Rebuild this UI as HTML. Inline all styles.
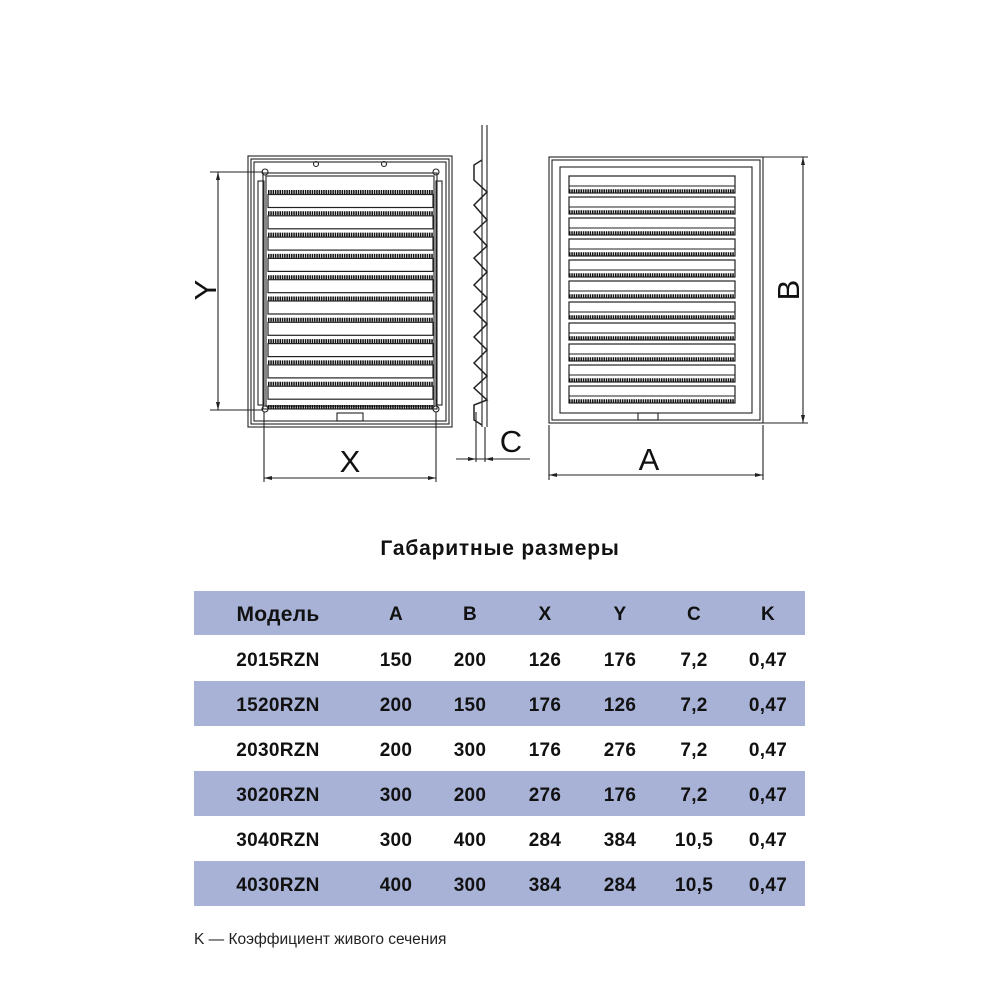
<!DOCTYPE html>
<html><head><meta charset="utf-8"><style>
body{margin:0;background:#fff;width:1000px;height:1000px;overflow:hidden}
svg{display:block}
text{font-family:"Liberation Sans",sans-serif}
.t{font-weight:bold;font-size:19px;fill:#111;text-anchor:middle;letter-spacing:0.3px}
</style></head><body>
<svg width="1000" height="1000" viewBox="0 0 1000 1000">
<defs>
<g id="ll">
<line x1="268" x2="433" y1="0" y2="0" stroke="#111" stroke-width="4" stroke-dasharray="1.5 0.8"/>
<rect x="268" y="2.5" width="165" height="13" fill="none" stroke="#222" stroke-width="1.2"/>
</g>
<g id="rl">
<rect x="569" y="0" width="166" height="17" fill="none" stroke="#222" stroke-width="1.2"/>
<line x1="569" x2="735" y1="10" y2="10" stroke="#222" stroke-width="0.9"/>
<line x1="569" x2="735" y1="15" y2="15" stroke="#111" stroke-width="3.5" stroke-dasharray="1.5 0.8"/>
</g>
</defs>
<g fill="none" stroke="#222" stroke-width="1.1">
<rect x="248" y="156" width="204" height="271"/>
<rect x="251" y="159" width="198" height="265"/>
<rect x="254" y="162" width="192" height="259"/>
<rect x="263" y="173" width="174" height="236"/>
<rect x="266" y="176" width="168" height="230"/>
<rect x="258" y="181" width="6" height="224"/>
<rect x="436" y="181" width="6" height="224"/>
<circle cx="265" cy="172" r="3"/><circle cx="436" cy="172" r="3"/>
<circle cx="265" cy="409" r="3"/><circle cx="436" cy="409" r="3"/>
<circle cx="316" cy="164" r="2.5"/><circle cx="384" cy="164" r="2.5"/>
<rect x="337" y="413" width="26" height="8"/>
<line x1="482" y1="125" x2="482" y2="427"/>
<line x1="487" y1="125" x2="487" y2="427"/>
<path stroke-width="1.5" d="M482 160 L474 165 L474 180 L487 192 L474 205 L487 220 L474 232 L487 246 L474 258 L487 272 L474 285 L487 298 L474 311 L487 324 L474 337 L487 350 L474 363 L487 376 L474 388 L487 400 L474 405 L474 420 L482 425"/>
<rect x="549" y="157" width="214" height="266"/>
<rect x="552" y="160" width="208" height="260"/>
<rect x="560" y="167" width="192" height="246"/>
<rect x="638" y="413" width="20" height="7"/>
<line x1="218" y1="172" x2="218" y2="410"/>
<line x1="210" y1="172" x2="263" y2="172"/>
<line x1="210" y1="410" x2="263" y2="410"/>
<line x1="264" y1="412" x2="264" y2="482"/>
<line x1="436" y1="412" x2="436" y2="482"/>
<line x1="264" y1="478" x2="436" y2="478"/>
<line x1="476" y1="412" x2="476" y2="462"/>
<line x1="485" y1="427" x2="485" y2="462"/>
<line x1="456" y1="459" x2="530" y2="459"/>
<line x1="549" y1="425" x2="549" y2="480"/>
<line x1="763" y1="425" x2="763" y2="480"/>
<line x1="549" y1="475" x2="763" y2="475"/>
<line x1="763" y1="157" x2="808" y2="157"/>
<line x1="763" y1="423" x2="808" y2="423"/>
<line x1="803" y1="157" x2="803" y2="423"/>
</g>
<g fill="#222">
<path d="M218 172 l-2 8 h4z"/><path d="M218 410 l-2 -8 h4z"/>
<path d="M264 478 l8 -2 v4z"/><path d="M436 478 l-8 -2 v4z"/>
<path d="M549 475 l8 -2 v4z"/><path d="M763 475 l-8 -2 v4z"/>
<path d="M803 157 l-2 8 h4z"/><path d="M803 423 l-2 -8 h4z"/>
<path d="M476 459 l-8 -2 v4z"/><path d="M485 459 l8 -2 v4z"/>
</g>
<use href="#ll" y="192"/><use href="#ll" y="213.3"/><use href="#ll" y="234.6"/><use href="#ll" y="255.9"/><use href="#ll" y="277.2"/>
<use href="#ll" y="298.5"/><use href="#ll" y="319.8"/><use href="#ll" y="341.1"/><use href="#ll" y="362.4"/><use href="#ll" y="383.7"/>
<line x1="268" x2="433" y1="407" y2="407" stroke="#111" stroke-width="4" stroke-dasharray="1.5 0.8"/>
<use href="#rl" y="176"/><use href="#rl" y="197"/><use href="#rl" y="218"/><use href="#rl" y="239"/><use href="#rl" y="260"/><use href="#rl" y="281"/>
<use href="#rl" y="302"/><use href="#rl" y="323"/><use href="#rl" y="344"/><use href="#rl" y="365"/><use href="#rl" y="386"/>
<g font-size="31" fill="#111" text-anchor="middle">
<text x="350" y="472">X</text>
<text x="649" y="470">A</text>
<text x="511" y="452">C</text>
<text transform="translate(216,290) rotate(-90)">Y</text>
<text transform="translate(799,290) rotate(-90)">B</text>
</g>
<text x="500" y="555" class="t" font-size="21" style="font-size:21px;letter-spacing:0.8px">Габаритные размеры</text>
<rect x="194" y="591" width="611" height="44" fill="#a8b2d6"/>
<rect x="194" y="681" width="611" height="45" fill="#a8b2d6"/>
<rect x="194" y="771" width="611" height="45" fill="#a8b2d6"/>
<rect x="194" y="861" width="611" height="45" fill="#a8b2d6"/>
<g>
<text x="278" y="621" class="t" style="font-size:21px">Модель</text><text x="396" y="620" class="t">A</text><text x="470" y="620" class="t">B</text><text x="545" y="620" class="t">X</text><text x="620" y="620" class="t">Y</text><text x="694" y="620" class="t">C</text><text x="768" y="620" class="t">K</text>
<text x="278" y="666" class="t">2015RZN</text><text x="396" y="666" class="t">150</text><text x="470" y="666" class="t">200</text><text x="545" y="666" class="t">126</text><text x="620" y="666" class="t">176</text><text x="694" y="666" class="t">7,2</text><text x="768" y="666" class="t">0,47</text>
<text x="278" y="711" class="t">1520RZN</text><text x="396" y="711" class="t">200</text><text x="470" y="711" class="t">150</text><text x="545" y="711" class="t">176</text><text x="620" y="711" class="t">126</text><text x="694" y="711" class="t">7,2</text><text x="768" y="711" class="t">0,47</text>
<text x="278" y="756" class="t">2030RZN</text><text x="396" y="756" class="t">200</text><text x="470" y="756" class="t">300</text><text x="545" y="756" class="t">176</text><text x="620" y="756" class="t">276</text><text x="694" y="756" class="t">7,2</text><text x="768" y="756" class="t">0,47</text>
<text x="278" y="801" class="t">3020RZN</text><text x="396" y="801" class="t">300</text><text x="470" y="801" class="t">200</text><text x="545" y="801" class="t">276</text><text x="620" y="801" class="t">176</text><text x="694" y="801" class="t">7,2</text><text x="768" y="801" class="t">0,47</text>
<text x="278" y="846" class="t">3040RZN</text><text x="396" y="846" class="t">300</text><text x="470" y="846" class="t">400</text><text x="545" y="846" class="t">284</text><text x="620" y="846" class="t">384</text><text x="694" y="846" class="t">10,5</text><text x="768" y="846" class="t">0,47</text>
<text x="278" y="891" class="t">4030RZN</text><text x="396" y="891" class="t">400</text><text x="470" y="891" class="t">300</text><text x="545" y="891" class="t">384</text><text x="620" y="891" class="t">284</text><text x="694" y="891" class="t">10,5</text><text x="768" y="891" class="t">0,47</text>
</g>
<text x="194" y="944" font-size="15.5" fill="#222">K — Коэффициент живого сечения</text>
</svg>
</body></html>
